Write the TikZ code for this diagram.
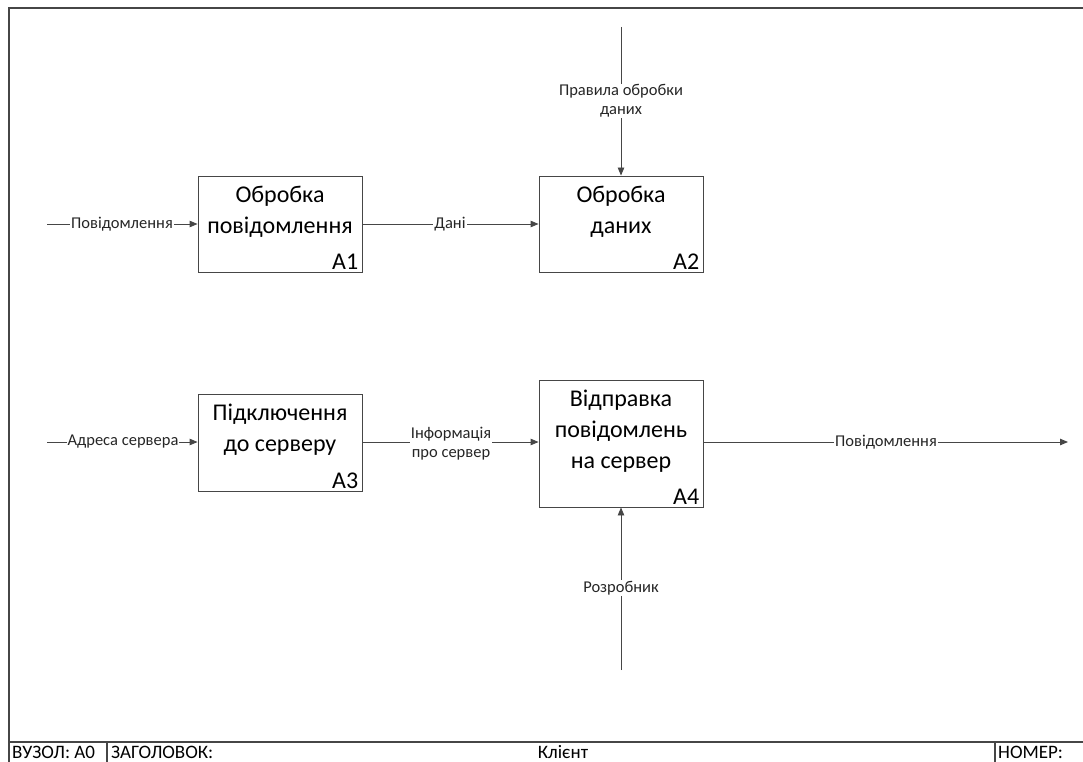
\documentclass[tikz,border=0pt]{standalone}
\usepackage{fontspec}
\setmainfont{Carlito}
\usetikzlibrary{arrows.meta}
\definecolor{linegray}{RGB}{70,70,70}
\tikzset{
  fn/.style={draw=linegray, line width=0.9pt, minimum width=164pt, inner sep=0pt},
  boxtext/.style={font=\fontsize{24}{31}\selectfont, align=center, anchor=north, inner sep=0pt},
  boxnum/.style={font=\fontsize{24}{26}\selectfont, anchor=south east, inner xsep=4pt, inner ysep=3pt},
  conn/.style={draw=linegray, line width=0.9pt, -{Triangle[length=8pt,width=6.5pt]}},
  lbl/.style={font=\fontsize{16.5}{19}\selectfont, fill=white, inner sep=1pt, align=center, text=black!85},
  frame/.style={draw=linegray, line width=1.2pt},
  bar/.style={font=\fontsize{19}{20}\selectfont, inner sep=0pt}
}
\begin{document}
\begin{tikzpicture}[x=1pt,y=-1pt]
\useasboundingbox (0,0) rectangle (1083,762);
% frame
\draw[frame] (9,762) -- (9,8) -- (1083,8);
\draw[frame] (9,742) -- (1083,742);
\draw[frame] (107,742) -- (107,762);
\draw[frame] (995,742) -- (995,762);
\node[bar, anchor=base west] (node) at (12,758.5) {ВУЗОЛ: A0};
\node[bar, anchor=base west] (title) at (111,758.5) {ЗАГОЛОВОК:};
\node[bar, anchor=base] (client) at (563,758.5) {Клієнт};
\node[bar, anchor=base west] (number) at (998,758.5) {НОМЕР:};
% boxes
\node[fn, minimum height=96pt] (A1) at (280,224) {};
\node[fn, minimum height=96pt] (A2) at (621,224) {};
\node[fn, minimum height=97pt] (A3) at (280,442.5) {};
\node[fn, minimum height=127pt] (A4) at (621,443.5) {};
\node[boxtext] (A1t) at ([yshift=-10pt]A1.north) {Обробка\\повідомлення};
\node[boxtext] (A2t) at ([yshift=-10pt]A2.north) {Обробка\\даних};
\node[boxtext] (A3t) at ([yshift=-10pt]A3.north) {Підключення\\до серверу};
\node[boxtext] (A4t) at ([yshift=-10pt]A4.north) {Відправка\\повідомлень\\на сервер};
\node[boxnum] (A1n) at (A1.south east) {A1};
\node[boxnum] (A2n) at (A2.south east) {A2};
\node[boxnum] (A3n) at (A3.south east) {A3};
\node[boxnum] (A4n) at (A4.south east) {A4};
% free ends
\coordinate (in1) at (47,224);
\coordinate (in3) at (47,442);
\coordinate (ctl2) at (621,27);
\coordinate (mech4) at (621,670);
\coordinate (out4) at (1068,442);
% connectors
\draw[conn] (in1) -- (A1.west |- in1);
\node[lbl] (l1) at (122,224) {Повідомлення};
\draw[conn] (A1.east) -- (A2.west);
\node[lbl] (l2) at (450,224) {Дані};
\draw[conn] (ctl2) -- (A2.north);
\node[lbl] (l3) at (621,101) {Правила обробки\\даних};
\draw[conn] (in3) -- (A3.west |- in3);
\node[lbl] (l4) at (123,442) {Адреса сервера};
\draw[conn] (A3.east |- in3) -- (A4.west |- in3);
\node[lbl] (l5) at (451,444) {Інформація\\про сервер};
\draw[conn] (A4.east |- out4) -- (out4);
\node[lbl] (l6) at (886,442) {Повідомлення};
\draw[conn] (mech4) -- (A4.south);
\node[lbl] (l7) at (621,588) {Розробник};
\end{tikzpicture}
\end{document}
